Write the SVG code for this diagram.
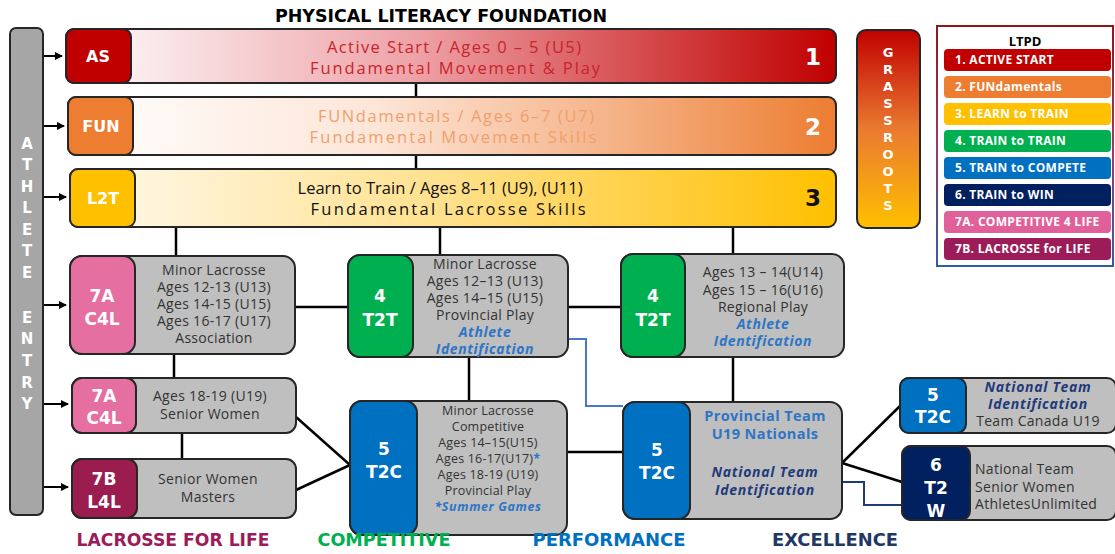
<svg xmlns="http://www.w3.org/2000/svg" width="1115" height="554" viewBox="0 0 1115 554">
<defs>
<linearGradient id="gAS" x1="0" x2="1" y1="0" y2="0"><stop offset="0" stop-color="#ffffff"/><stop offset="0.45" stop-color="#eea3a8"/><stop offset="1" stop-color="#c00000"/></linearGradient>
<linearGradient id="gFUN" x1="0" x2="1" y1="0" y2="0"><stop offset="0" stop-color="#ffffff"/><stop offset="0.4" stop-color="#fde6d8"/><stop offset="0.7" stop-color="#f5b48a"/><stop offset="1" stop-color="#ed7d31"/></linearGradient>
<linearGradient id="gL2T" x1="0" x2="1" y1="0" y2="0"><stop offset="0" stop-color="#fffaf0"/><stop offset="0.5" stop-color="#ffe08a"/><stop offset="1" stop-color="#ffc000"/></linearGradient>
<linearGradient id="gGR" x1="0" x2="0" y1="0" y2="1"><stop offset="0" stop-color="#c00000"/><stop offset="0.5" stop-color="#ea7a30"/><stop offset="1" stop-color="#ffc000"/></linearGradient>
<linearGradient id="gLeg" x1="0" x2="0" y1="0" y2="1"><stop offset="0" stop-color="#8b1a1a"/><stop offset="0.5" stop-color="#9b3a6a"/><stop offset="1" stop-color="#2e5fa0"/></linearGradient>
<marker id="arr" markerWidth="8" markerHeight="8" refX="7" refY="4" orient="auto" markerUnits="userSpaceOnUse"><path d="M0,0 L8,4 L0,8 z" fill="#000"/></marker>
<style>
.box{fill:#bfbfbf;stroke:#262626;stroke-width:2}
.bdg{stroke:#262626;stroke-width:2}
.bt{font-family:"DejaVu Sans","Open Sans",sans-serif;font-weight:700;fill:#fff;text-anchor:middle}
.tx{font-family:"Open Sans","Liberation Sans",sans-serif;font-size:14px;letter-spacing:0.3px;fill:#333;text-anchor:middle}
.txs{font-family:"Open Sans","Liberation Sans",sans-serif;font-size:12.5px;letter-spacing:0.2px;fill:#333;text-anchor:middle}
.txl{font-family:"Open Sans","Liberation Sans",sans-serif;font-size:14px;letter-spacing:0.3px;fill:#333;text-anchor:start}
.ai{font-family:"Open Sans","Liberation Sans",sans-serif;font-size:14px;letter-spacing:0.6px;font-weight:700;font-style:italic;fill:#2e75c6;text-anchor:middle}
.ni{font-family:"Open Sans","Liberation Sans",sans-serif;font-size:14px;letter-spacing:0.7px;font-weight:700;font-style:italic;fill:#1f3a7a;text-anchor:middle}
.rt{font-family:"Open Sans","Liberation Sans",sans-serif;font-size:16.5px;text-anchor:middle}
.num{font-family:"DejaVu Sans","Open Sans",sans-serif;font-size:23px;font-weight:700;text-anchor:middle}
.lg{font-family:"Open Sans","Liberation Sans",sans-serif;font-size:12px;letter-spacing:0.3px;font-weight:700;fill:#fff}
.ft{font-family:"DejaVu Sans","Open Sans",sans-serif;font-size:17px;font-weight:700;text-anchor:middle}
.ln{stroke:#000;stroke-width:2.5;fill:none}
.ent{font-family:"DejaVu Sans","Open Sans",sans-serif;font-size:15px;font-weight:700;fill:#fff;text-anchor:middle}
.gr{font-family:"DejaVu Sans","Open Sans",sans-serif;font-size:13px;font-weight:700;fill:#fff;text-anchor:middle}
</style>
</defs>
<rect width="1115" height="554" fill="#fff"/>

<text x="441" y="22" font-family="DejaVu Sans, Open Sans, sans-serif" font-size="17" font-weight="700" text-anchor="middle" fill="#000" textLength="332" lengthAdjust="spacingAndGlyphs">PHYSICAL LITERACY FOUNDATION</text>

<!-- connectors -->
<g id="connectors">
<line class="ln" x1="416" y1="83" x2="416" y2="97"/>
<line class="ln" x1="416" y1="155" x2="416" y2="169"/>
<line class="ln" x1="176" y1="227" x2="176" y2="256"/>
<line class="ln" x1="440" y1="227" x2="440" y2="255"/>
<line class="ln" x1="733" y1="227" x2="733" y2="254"/>
<line class="ln" x1="295" y1="307" x2="348" y2="307"/>
<line class="ln" x1="568" y1="307" x2="621" y2="307"/>
<line class="ln" x1="174" y1="354" x2="174" y2="378"/>
<line class="ln" x1="182" y1="433" x2="182" y2="459"/>
<line class="ln" x1="469" y1="357" x2="469" y2="401"/>
<line class="ln" x1="733" y1="357" x2="733" y2="402"/>
<line class="ln" x1="296" y1="417" x2="350" y2="465"/>
<line class="ln" x1="296" y1="490" x2="350" y2="465"/>
<line class="ln" x1="567" y1="452" x2="623" y2="452"/>
<line class="ln" x1="842" y1="463" x2="900" y2="406"/>
<line class="ln" x1="842" y1="463" x2="902" y2="482"/>
<polyline points="536,339 586,339 586,406 623,406" fill="none" stroke="#4a78c8" stroke-width="2"/>
<polyline points="816,482 864,482 864,505 902,505" fill="none" stroke="#1f3a7a" stroke-width="2"/>
<line x1="43" y1="56" x2="62" y2="56" stroke="#000" stroke-width="2" marker-end="url(#arr)"/>
<line x1="43" y1="126" x2="64" y2="126" stroke="#000" stroke-width="2" marker-end="url(#arr)"/>
<line x1="43" y1="197" x2="66" y2="197" stroke="#000" stroke-width="2" marker-end="url(#arr)"/>
<line x1="43" y1="305" x2="66" y2="305" stroke="#000" stroke-width="2" marker-end="url(#arr)"/>
<line x1="43" y1="404" x2="68" y2="404" stroke="#000" stroke-width="2" marker-end="url(#arr)"/>
<line x1="43" y1="487" x2="68" y2="487" stroke="#000" stroke-width="2" marker-end="url(#arr)"/>
</g>

<!-- athlete entry -->
<g id="athlete-entry">
<rect x="10" y="28" width="33" height="487" rx="6" fill="#a6a6a6" stroke="#262626" stroke-width="2"/>
<text class="ent" x="27" y="149">A</text>
<text class="ent" x="27" y="170">T</text>
<text class="ent" x="27" y="192">H</text>
<text class="ent" x="27" y="213">L</text>
<text class="ent" x="27" y="235">E</text>
<text class="ent" x="27" y="256">T</text>
<text class="ent" x="27" y="278">E</text>
<text class="ent" x="27" y="323">E</text>
<text class="ent" x="27" y="344">N</text>
<text class="ent" x="27" y="366">T</text>
<text class="ent" x="27" y="388">R</text>
<text class="ent" x="27" y="409">Y</text>
</g>

<!-- rows -->
<g id="row-as">
<rect x="66" y="29" width="770" height="54" rx="8" fill="url(#gAS)" stroke="#262626" stroke-width="2"/>
<rect class="bdg" x="66" y="29" width="65" height="54" rx="8" fill="#c00000"/>
<text class="bt" x="98" y="62" font-size="16">AS</text>
<text class="rt" x="454" y="53" fill="#c8242c" textLength="254" lengthAdjust="spacing">Active Start / Ages 0 – 5 (U5)</text>
<text class="rt" x="455" y="74" fill="#c8242c" textLength="290" lengthAdjust="spacing">Fundamental Movement &amp; Play</text>
<text class="num" x="813" y="65" fill="#fff">1</text>
</g>
<g id="row-fun">
<rect x="68" y="97" width="768" height="58" rx="8" fill="url(#gFUN)" stroke="#262626" stroke-width="2"/>
<rect class="bdg" x="68" y="97" width="65" height="58" rx="8" fill="#ed7d31"/>
<text class="bt" x="101" y="132" font-size="16">FUN</text>
<text class="rt" x="456" y="122" fill="#f0a06c" textLength="276" lengthAdjust="spacing">FUNdamentals / Ages 6–7 (U7)</text>
<text class="rt" x="453" y="143" fill="#f0a06c" textLength="287" lengthAdjust="spacing">Fundamental Movement Skills</text>
<text class="num" x="813" y="135" fill="#fff">2</text>
</g>
<g id="row-l2t">
<rect x="70" y="169" width="766" height="58" rx="8" fill="url(#gL2T)" stroke="#262626" stroke-width="2"/>
<rect class="bdg" x="70" y="169" width="65" height="58" rx="8" fill="#ffc000"/>
<text class="bt" x="103" y="204" font-size="16">L2T</text>
<text class="rt" x="440" y="194" fill="#111" textLength="285" lengthAdjust="spacing">Learn to Train / Ages 8–11 (U9), (U11)</text>
<text class="rt" x="448" y="215" fill="#111" textLength="275" lengthAdjust="spacing">Fundamental Lacrosse Skills</text>
<text class="num" x="813" y="206" fill="#111">3</text>
</g>

<g id="grassroots">
<rect x="857" y="30" width="63" height="198" rx="9" fill="url(#gGR)" stroke="#262626" stroke-width="2"/>
<text class="gr" x="888" y="57">G</text><text class="gr" x="888" y="74">R</text><text class="gr" x="888" y="91">A</text><text class="gr" x="888" y="108">S</text><text class="gr" x="888" y="125">S</text><text class="gr" x="888" y="142">R</text><text class="gr" x="888" y="159">O</text><text class="gr" x="888" y="176">O</text><text class="gr" x="888" y="193">T</text><text class="gr" x="888" y="210">S</text>
</g>

<g id="legend">
<rect x="937" y="26" width="176" height="240" fill="#fff" stroke="url(#gLeg)" stroke-width="2"/>
<text x="1025" y="46" font-family="Open Sans, Liberation Sans, sans-serif" font-size="13" font-weight="700" text-anchor="middle" fill="#000">LTPD</text>
<rect x="944" y="49" width="167" height="22" rx="4" fill="#c00000"/><text class="lg" x="955" y="64">1. ACTIVE START</text>
<rect x="944" y="76" width="167" height="22" rx="4" fill="#ed7d31"/><text class="lg" x="955" y="91">2. FUNdamentals</text>
<rect x="944" y="103" width="167" height="22" rx="4" fill="#ffc000"/><text class="lg" x="955" y="118" fill="#fff3c8">3. LEARN to TRAIN</text>
<rect x="944" y="130" width="167" height="22" rx="4" fill="#00b050"/><text class="lg" x="955" y="145">4. TRAIN to TRAIN</text>
<rect x="944" y="157" width="167" height="22" rx="4" fill="#0070c0"/><text class="lg" x="955" y="172">5. TRAIN to COMPETE</text>
<rect x="944" y="184" width="167" height="22" rx="4" fill="#002060"/><text class="lg" x="955" y="199">6. TRAIN to WIN</text>
<rect x="944" y="211" width="167" height="22" rx="4" fill="#e0609a"/><text class="lg" x="955" y="226">7A. COMPETITIVE 4 LIFE</text>
<rect x="944" y="238" width="167" height="22" rx="4" fill="#9b1c58"/><text class="lg" x="955" y="253">7B. LACROSSE for LIFE</text>
</g>

<!-- middle nodes -->
<g id="c4l-minor">
<rect class="box" x="70" y="256" width="225" height="98" rx="12"/>
<rect class="bdg" x="70" y="256" width="65" height="98" rx="12" fill="#e46fa0"/>
<text class="bt" x="102" y="302" font-size="17">7A</text>
<text class="bt" x="102" y="325" font-size="17">C4L</text>
<text class="tx" x="214" y="275">Minor Lacrosse</text>
<text class="tx" x="214" y="292">Ages 12-13 (U13)</text>
<text class="tx" x="214" y="309">Ages 14-15 (U15)</text>
<text class="tx" x="214" y="326">Ages 16-17 (U17)</text>
<text class="tx" x="214" y="343">Association</text>
</g>
<g id="t2t-provincial">
<rect class="box" x="348" y="255" width="220" height="102" rx="12"/>
<rect class="bdg" x="348" y="255" width="65" height="102" rx="12" fill="#00b050"/>
<text class="bt" x="380" y="302" font-size="17">4</text>
<text class="bt" x="380" y="326" font-size="17">T2T</text>
<text class="tx" x="485" y="269">Minor Lacrosse</text>
<text class="tx" x="485" y="286">Ages 12–13 (U13)</text>
<text class="tx" x="485" y="303">Ages 14–15 (U15)</text>
<text class="tx" x="485" y="320">Provincial Play</text>
<text class="ai" x="485" y="337">Athlete</text>
<text class="ai" x="485" y="354">Identification</text>
</g>
<g id="t2t-regional">
<rect class="box" x="621" y="254" width="223" height="103" rx="12"/>
<rect class="bdg" x="621" y="254" width="64" height="103" rx="12" fill="#00b050"/>
<text class="bt" x="653" y="302" font-size="17">4</text>
<text class="bt" x="653" y="326" font-size="17">T2T</text>
<text class="tx" x="763" y="277">Ages 13 – 14(U14)</text>
<text class="tx" x="763" y="295">Ages 15 – 16(U16)</text>
<text class="tx" x="763" y="312">Regional Play</text>
<text class="ai" x="763" y="329">Athlete</text>
<text class="ai" x="763" y="346">Identification</text>
</g>
<g id="c4l-senior">
<rect class="box" x="72" y="378" width="224" height="55" rx="10"/>
<rect class="bdg" x="72" y="378" width="64" height="55" rx="10" fill="#e46fa0"/>
<text class="bt" x="104" y="402" font-size="17">7A</text>
<text class="bt" x="104" y="424" font-size="17">C4L</text>
<text class="tx" x="210" y="401">Ages 18-19 (U19)</text>
<text class="tx" x="210" y="419">Senior Women</text>
</g>
<g id="l4l">
<rect class="box" x="72" y="459" width="224" height="59" rx="10"/>
<rect class="bdg" x="72" y="459" width="65" height="59" rx="10" fill="#9b1c4e"/>
<text class="bt" x="104" y="485" font-size="17">7B</text>
<text class="bt" x="104" y="508" font-size="17">L4L</text>
<text class="tx" x="208" y="484">Senior Women</text>
<text class="tx" x="208" y="502">Masters</text>
</g>
<g id="t2c-competitive">
<rect class="box" x="350" y="401" width="217" height="134" rx="12"/>
<rect class="bdg" x="350" y="401" width="67" height="134" rx="12" fill="#0070c0"/>
<text class="bt" x="384" y="455" font-size="17">5</text>
<text class="bt" x="384" y="478" font-size="17">T2C</text>
<text class="txs" x="488" y="415">Minor Lacrosse</text>
<text class="txs" x="488" y="431">Competitive</text>
<text class="txs" x="488" y="447">Ages 14–15(U15)</text>
<text class="txs" x="488" y="463">Ages 16-17(U17)<tspan fill="#2e75c6" font-weight="700">*</tspan></text>
<text class="txs" x="488" y="479">Ages 18-19 (U19)</text>
<text class="txs" x="488" y="495">Provincial Play</text>
<text class="ai" x="488" y="511" style="font-size:12.5px;letter-spacing:0.6px">*Summer Games</text>
</g>
<g id="t2c-provincial">
<rect class="box" x="623" y="402" width="219" height="117" rx="12"/>
<rect class="bdg" x="623" y="402" width="67" height="117" rx="12" fill="#0070c0"/>
<text class="bt" x="657" y="456" font-size="17">5</text>
<text class="bt" x="657" y="479" font-size="17">T2C</text>
<text x="765" y="421" font-family="Open Sans, Liberation Sans, sans-serif" font-size="14.5" letter-spacing="0.4" font-weight="700" fill="#2e75c6" text-anchor="middle">Provincial Team</text>
<text x="765" y="439" font-family="Open Sans, Liberation Sans, sans-serif" font-size="14.5" letter-spacing="0.4" font-weight="700" fill="#2e75c6" text-anchor="middle">U19 Nationals</text>
<text class="ni" x="765" y="477">National Team</text>
<text class="ni" x="765" y="495">Identification</text>
</g>
<g id="t2c-national">
<rect class="box" x="900" y="378" width="216" height="55" rx="9"/>
<rect class="bdg" x="900" y="378" width="66" height="55" rx="9" fill="#0070c0"/>
<text class="bt" x="933" y="401" font-size="17">5</text>
<text class="bt" x="933" y="423" font-size="17">T2C</text>
<text class="ni" x="1038" y="392">National Team</text>
<text class="ni" x="1038" y="409">Identification</text>
<text class="tx" x="1038" y="426">Team Canada U19</text>
</g>
<g id="t2w">
<rect class="box" x="902" y="446" width="214" height="74" rx="9"/>
<rect class="bdg" x="902" y="446" width="68" height="74" rx="9" fill="#002060"/>
<text class="bt" x="936" y="471" font-size="17">6</text>
<text class="bt" x="936" y="494" font-size="17">T2</text>
<text class="bt" x="936" y="517" font-size="17">W</text>
<text class="txl" x="975" y="474">National Team</text>
<text class="txl" x="975" y="492">Senior Women</text>
<text class="txl" x="975" y="509">AthletesUnlimited</text>
</g>

<g id="footer">
<text class="ft" x="173" y="546" fill="#9b1c58" textLength="193" lengthAdjust="spacingAndGlyphs">LACROSSE FOR LIFE</text>
<text class="ft" x="384" y="546" fill="#00b050" textLength="133" lengthAdjust="spacingAndGlyphs">COMPETITIVE</text>
<text class="ft" x="609" y="546" fill="#0070c0" textLength="153" lengthAdjust="spacingAndGlyphs">PERFORMANCE</text>
<text class="ft" x="835" y="546" fill="#1f3864" textLength="126" lengthAdjust="spacingAndGlyphs">EXCELLENCE</text>
</g>
</svg>
